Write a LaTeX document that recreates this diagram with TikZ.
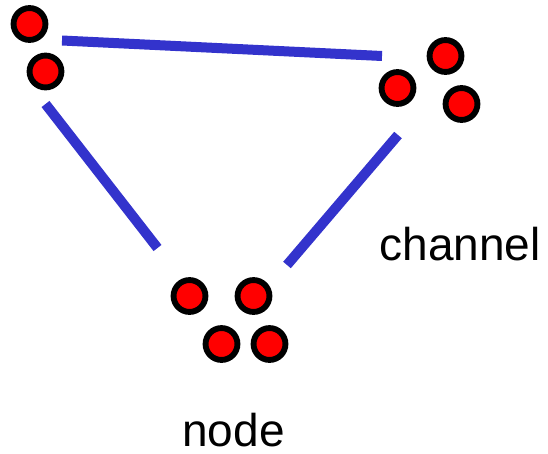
\documentclass[tikz,border=0pt]{standalone}
\usepackage{fontspec}
\setmainfont{Liberation Sans}
\usepackage{xcolor}

\definecolor{linkblue}{RGB}{51,51,204}

\begin{document}
\begin{tikzpicture}[x=0.75pt,y=-0.75pt,
        dot/.style={circle,draw=black,line width=4.4pt,fill=red,minimum size=23.9pt,inner sep=0pt},
        link/.style={linkblue,line width=7.5pt},
        lbl/.style={anchor=base,inner sep=0pt,text depth=0pt,font=\fontsize{34.5}{40}\selectfont}]
        \useasboundingbox (0,0) rectangle (548,453);

        % Nodes (red dots)
        \node[dot] (a1) at (29.5,24) {};
        \node[dot] (a2) at (45.5,71.5) {};
        \node[dot] (b1) at (445.5,56) {};
        \node[dot] (b2) at (397.5,88) {};
        \node[dot] (b3) at (461.5,104) {};
        \node[dot] (c1) at (189.5,296) {};
        \node[dot] (c2) at (253.5,296) {};
        \node[dot] (c3) at (221.5,344) {};
        \node[dot] (c4) at (269.5,344) {};

        % Channel end points
        \coordinate (ab) at (62,40.5);
        \coordinate (ba) at (382,56);
        \coordinate (ac) at (45.5,104);
        \coordinate (ca) at (157.5,248);
        \coordinate (bc) at (398,135);
        \coordinate (cb) at (287,265);

        % Channels
        \draw[link] (ab) -- (ba);
        \draw[link] (ac) -- (ca);
        \draw[link] (bc) -- (cb);

        % Labels
        \node[lbl] (chan) at (460,260) {channel};
        \node[lbl] (nodelbl) at (233.5,446) {node};
\end{tikzpicture}
\end{document}
